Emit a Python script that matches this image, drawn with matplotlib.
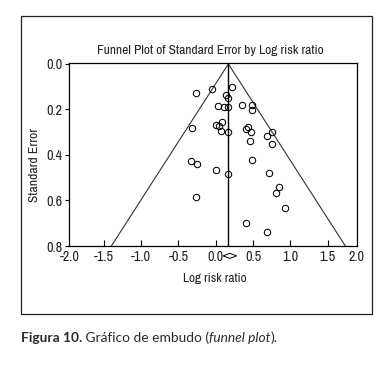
import matplotlib
matplotlib.use("Agg")
import matplotlib.pyplot as plt
from matplotlib.patches import Rectangle, Polygon
import matplotlib.transforms as mtransforms

# ---- data ----
log_rr = [-0.264, -0.054, 0.214, 0.138, 0.161, 0.035, 0.115, 0.161, 0.353, 0.483,
          0.491, 0.080, 0.000, 0.048, -0.318, 0.071, 0.161, 0.429, 0.402, 0.473,
          0.751, 0.688, 0.456, 0.759, -0.331, -0.251, 0.004, 0.165, 0.491, 0.718,
          0.845, 0.812, -0.264, 0.933, 0.406, 0.692]
std_err = [0.126, 0.111, 0.100, 0.136, 0.151, 0.185, 0.190, 0.190, 0.180, 0.179,
           0.201, 0.256, 0.268, 0.271, 0.283, 0.295, 0.299, 0.278, 0.284, 0.300,
           0.298, 0.315, 0.337, 0.353, 0.426, 0.441, 0.467, 0.482, 0.422, 0.479,
           0.542, 0.566, 0.586, 0.634, 0.699, 0.738]
summary_log_rr = 0.17
summary_ci = [0.10, 0.28]
z_value = 1.96
se_max = 0.8

xtick_vals = [-1.96, -1.5, -1.0, -0.5, 0.0, 0.5, 1.0, 1.5, 1.89]
xtick_labels = ["-2.0", "-1.5", "-1.0", "-0.5", "0.0", "0.5", "1.0", "1.5", "2.0"]
ytick_vals = [0.0, 0.2, 0.4, 0.6, 0.8]
ytick_labels = ["0.0", "0.2", "0.4", "0.6", "0.8"]

title = "Funnel Plot of Standard Error by Log risk ratio"
xlabel = "Log risk ratio"
ylabel = "Standard Error"

W, H = 390, 371
narrow = ["Archivo Narrow", "DejaVu Sans"]
ink = "#222222"

fig = plt.figure(figsize=(W / 100, H / 100), dpi=100)
fig.patch.set_facecolor("white")

def fx(px):
    return px / W

def fy(py):
    return 1 - py / H

ax = fig.add_axes([fx(69.3), fy(246), fx(356.7) - fx(69.3), fy(63.3) - fy(246)])
ax.set_xlim(-1.962, 1.890)
ax.set_ylim(se_max, -0.003)

# funnel
ax.plot([summary_log_rr - z_value * se_max, summary_log_rr, summary_log_rr + z_value * se_max],
        [se_max, 0, se_max], color="#333333", lw=0.8, clip_on=True)
ax.plot([summary_log_rr, summary_log_rr], [0, se_max], color="black", lw=1.0)

# studies
ax.plot(log_rr, std_err, linestyle="none", marker="o", ms=4.6, mfc="none",
        mec="black", mew=0.75)

# summary diamond below axis
trans = mtransforms.blended_transform_factory(ax.transData, ax.transAxes)
xc = (summary_ci[0] + summary_ci[1]) / 2
diamond = Polygon([(summary_ci[0], -0.054), (xc, -0.040), (summary_ci[1], -0.054), (xc, -0.068)],
                  closed=True, fill=False, edgecolor="black", lw=0.7,
                  transform=trans, clip_on=False)
ax.add_patch(diamond)

ax.set_xticks(xtick_vals)
ax.set_xticklabels(xtick_labels)
ax.set_yticks(ytick_vals)
ax.set_yticklabels(ytick_labels)
ax.tick_params(axis="x", direction="in", length=4, width=0.8, pad=3, labelsize=10.2)
ax.tick_params(axis="y", direction="out", length=3, width=0.8, pad=2, labelsize=10.2)
for lab in ax.get_xticklabels() + ax.get_yticklabels():
    lab.set_family(narrow)
    lab.set_color(ink)
ax.xaxis.get_major_ticks()[0].tick1line.set_visible(False)
ax.xaxis.get_major_ticks()[-1].tick1line.set_visible(False)
for s in ax.spines.values():
    s.set_linewidth(0.9)

fig.text(fx(210), fy(50), title, ha="center", va="center", fontsize=9.7, family=narrow, color=ink)
fig.text(fx(215), fy(278), xlabel, ha="center", va="center", fontsize=9.6, family=narrow, color=ink)
fig.text(fx(35), fy(165), ylabel, ha="center", va="center", rotation=90, fontsize=9.8, family=narrow, color=ink)

# outer frame
fig.patches.append(Rectangle((fx(21), fy(314)), fx(372) - fx(21), fy(15.7) - fy(314),
                             transform=fig.transFigure, fill=False, edgecolor=ink, lw=0.9))

# caption with mixed styles
fig.canvas.draw()
renderer = fig.canvas.get_renderer()
cap_parts = [("Figura 10.", "bold", "normal"), (" Gráfico de embudo (", "normal", "normal"),
             ("funnel plot", "normal", "italic"), (").", "normal", "normal")]
x = fx(21)
for txt, wt, st in cap_parts:
    t = fig.text(x, fy(338), txt, ha="left", va="center", fontsize=9.9,
                 family=["Lato", "DejaVu Sans"], weight=wt, style=st, color="#2a2a2a")
    bb = t.get_window_extent(renderer=renderer)
    x += bb.width / W

fig.savefig("out.png", dpi=100, facecolor="white")
